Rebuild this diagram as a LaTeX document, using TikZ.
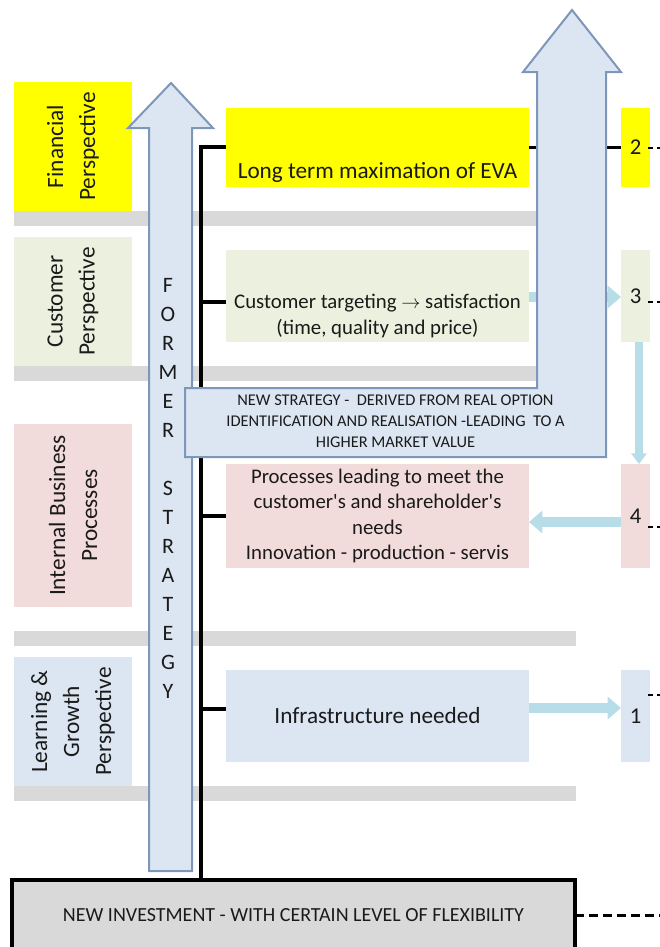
\documentclass[tikz,border=0pt]{standalone}
\usepackage{fontspec}
\setmainfont{Carlito}
\usetikzlibrary{arrows.meta,fit,calc}
\definecolor{finY}{HTML}{FFFF00}
\definecolor{cusG}{HTML}{EBF1DE}
\definecolor{intPk}{HTML}{F2DCDB}
\definecolor{lrnB}{HTML}{DCE6F2}
\definecolor{barG}{HTML}{D9D9D9}
\definecolor{arrF}{HTML}{DCE6F2}
\definecolor{arrS}{HTML}{7D96B9}
\definecolor{conB}{HTML}{B7DEE8}
\definecolor{txt}{HTML}{1A1A1A}
\begin{document}
\begin{tikzpicture}[x=0.75pt,y=-0.75pt,
  box/.style={inner sep=0pt,outer sep=0pt,draw=none,text=txt},
  ptext/.style={rotate=90,align=center,text=txt,inner sep=0pt,font=\fontsize{17.5}{24}\selectfont},
  mtext/.style={align=center,text=txt,inner sep=0pt,font=\fontsize{15.6}{19}\selectfont},
  btext/.style={align=center,text=txt,inner sep=0pt,font=\fontsize{17.4}{21}\selectfont},
  numtext/.style={font=\fontsize{17}{20}\selectfont},
  trunk/.style={line width=3pt,black},
  blink/.style={line width=2.25pt,black},
  conn/.style={line width=7.5pt,conB,-{Triangle[width=16.5pt,length=10pt]}},
  vconn/.style={line width=6pt,conB,-{Triangle[width=11.5pt,length=8pt]}},
  dashA/.style={line width=1.5pt,black,dash pattern=on 4pt off 3pt},
  dashB/.style={line width=2.25pt,black,dash pattern=on 7pt off 3.5pt},
  bigarrow/.style={fill=arrF,draw=arrS,line width=1.5pt,line join=miter}]
\useasboundingbox (0,0) rectangle (660,947);
% gray separator bars
\fill[barG] (14,211) rectangle (560,226);
\fill[barG] (14,366) rectangle (560,381);
\fill[barG] (14,631) rectangle (576,646);
\fill[barG] (14,786) rectangle (576,801);
% perspective boxes
\node[box,fill=finY,fit={(14,82) (132,211)}] (finP) {};
\node[box,fill=cusG,fit={(14,237) (132,366)}] (cusP) {};
\node[box,fill=intPk,fit={(14,424) (132,607)}] (intP) {};
\node[box,fill=lrnB,fit={(14,657) (132,786)}] (lrnP) {};
\node[ptext] (finPT) at (finP.center) {Financial\\Perspective};
\node[ptext] (cusPT) at (cusP.center) {Customer\\Perspective};
\node[ptext] (intPT) at (intP.center) {Internal Business\\Processes};
\node[ptext] (lrnPT) at (lrnP.center) {Learning \&\\Growth\\Perspective};
% middle boxes
\node[box,fill=finY,fit={(226,108) (529,187)}] (fin) {};
\node[box,fill=cusG,fit={(226,250) (529,342)}] (cust) {};
\node[box,fill=intPk,fit={(226,464) (529,568)}] (intl) {};
\node[box,fill=lrnB,fit={(226,670) (529,762)}] (lrn) {};
\node[btext,anchor=base] (finT) at (377.5,178) {Long term maximation of EVA};
\node[mtext] (custT) at (377.5,316) {Customer targeting $\rightarrow$ satisfaction\\(time, quality and price)};
\node[mtext,font=\fontsize{15.6}{19.1}\selectfont] (intlT) at (377.5,516) {Processes leading to meet the\\customer\textquotesingle s and shareholder\textquotesingle s\\needs\\Innovation - production - servis};
\node[btext] (lrnT) at (377.5,716) {Infrastructure needed};
% number boxes
\node[box,fill=finY,fit={(621,108) (650,187)}] (n2) {};
\node[box,fill=cusG,fit={(621,250) (650,342)}] (n3) {};
\node[box,fill=intPk,fit={(621,464) (650,568)}] (n4) {};
\node[box,fill=lrnB,fit={(621,670) (650,762)}] (n1) {};
\node[numtext,text=txt] (n2T) at (n2.center) {2};
\node[numtext,text=txt] (n3T) at (n3.center) {3};
\node[numtext,text=txt] (n4T) at (n4.center) {4};
\node[numtext,text=txt] (n1T) at (n1.center) {1};
% new investment box
\node[box,fill=barG,draw=black,line width=3pt,fit={(12,880) (575,950)}] (inv) {};
\node[text=txt,font=\fontsize{15}{18}\selectfont] (invT) at (inv.center) {NEW INVESTMENT - WITH CERTAIN LEVEL OF FLEXIBILITY};
% coordinates
\coordinate (tTop) at (201,147);
\coordinate (sC) at (201,302);
\coordinate (sI) at (201,516);
\coordinate (sL) at (201,709);
\coordinate (yC) at (0,297);
\coordinate (y4) at (0,522);
\coordinate (y1) at (0,708);
\coordinate (xv) at (639,0);
\coordinate (eR) at (664,0);
% black tree
\draw[trunk] (fin.west |- tTop) -- (tTop) -- (tTop |- inv.north);
\draw[trunk] (sC) -- (cust.west |- sC);
\draw[trunk] (sI) -- (intl.west |- sI);
\draw[trunk] (sL) -- (lrn.west |- sL);
\draw[blink] (fin.east |- tTop) -- (n2.west |- tTop);
% light blue connectors
\draw[conn] (cust.east |- yC) -- (n3.west |- yC);
\draw[vconn] (n3.south -| xv) -- (n4.north -| xv);
\draw[conn] (n4.west |- y4) -- (intl.east |- y4);
\draw[conn] (lrn.east |- y1) -- (n1.west |- y1);
% dashed lines to the right
\coordinate (d2) at ($(n2.east)+(-2,0)$);
\coordinate (d3) at ($(n3.east)+(-2,6)$);
\coordinate (d4) at ($(n4.east)+(-2,11)$);
\coordinate (d1) at ($(n1.east)+(-2,-21)$);
\draw[dashA] (d2) -- (d2 -| eR);
\draw[dashA] (d3) -- (d3 -| eR);
\draw[dashA] (d4) -- (d4 -| eR);
\draw[dashA] (d1) -- (d1 -| eR);
\draw[dashB] (inv.east) -- (inv.east -| eR);
% former strategy arrow
\draw[bigarrow] (149,871) -- (149,128) -- (128,128) -- (171,83) -- (213,128) -- (192,128) -- (192,871) -- cycle;
\node[align=center,text=txt,inner sep=0pt,font=\fontsize{16.5}{21.75}\selectfont] (formT) at (168,488) {F\\O\\R\\M\\E\\R\\\mbox{}\\S\\T\\R\\A\\T\\E\\G\\Y};
% new strategy arrow
\draw[bigarrow] (185,388) -- (537,388) -- (537,72) -- (523,72) -- (572,10) -- (621,72) -- (606,72) -- (606,457) -- (185,457) -- cycle;
\node[align=center,text=txt,inner sep=0pt,font=\fontsize{12.3}{15.75}\selectfont] (newT) at (395.5,421) {NEW STRATEGY -\ \ DERIVED FROM REAL OPTION\\IDENTIFICATION AND REALISATION -LEADING\ \ TO A\\HIGHER MARKET VALUE};
\end{tikzpicture}
\end{document}
